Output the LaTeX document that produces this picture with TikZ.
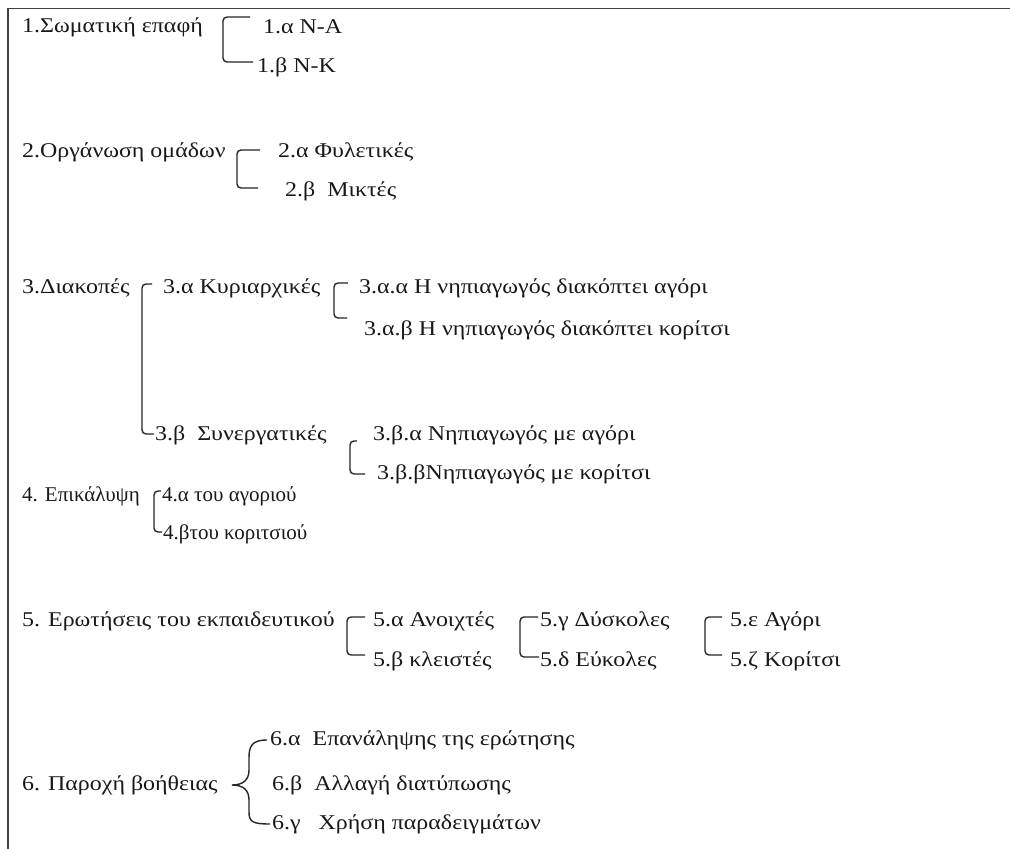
\documentclass[tikz,border=0pt]{standalone}
\usepackage{fontspec}
\setmainfont{Liberation Serif}
\newfontfamily\widefont[FakeStretch=1.14]{Liberation Serif}
\newfontfamily\narrowfont[FakeStretch=1.0]{Liberation Serif}
\begin{document}
\begin{tikzpicture}[x=1pt,y=-1pt,
  txt/.style={anchor=west,inner sep=0pt,font=\fontsize{21}{25}\widefont,text=black!90},
  ntxt/.style={txt,font=\fontsize{21}{25}\narrowfont},
  brk/.style={draw=black!85,line width=1.4pt,rounded corners=4pt},
  frame/.style={draw=black!75,line width=1.2pt}]
\useasboundingbox (0,0) rectangle (1010,849);
\fill[white] (0,0) rectangle (1010,849);
\draw[frame] (1010,8.5) -- (8,8.5) -- (8,849);

% row 1
\node[txt] (n1)  at (22,27)  {1.Σωματική επαφή};
\node[txt] (n1a) at (263,27) {1.α N-A};
\node[txt] (n1b) at (257,67) {1.β N-K};
\coordinate (b1) at (223,0);
\draw[brk] ([xshift=-13pt,yshift=10pt]n1a.west) -- ([yshift=10pt]n1a.west -| b1)
  -- ([yshift=5pt]n1b.west -| b1) -- ([xshift=-4pt,yshift=5pt]n1b.west);

% row 2
\node[txt] (n2)  at (22,152)  {2.Οργάνωση ομάδων};
\node[txt] (n2a) at (278,152) {2.α Φυλετικές};
\node[txt] (n2b) at (285,191) {2.β\ \ Μικτές};
\coordinate (b2) at (237,0);
\draw[brk] ([xshift=-18pt,yshift=2pt]n2a.west) -- ([yshift=2pt]n2a.west -| b2)
  -- ([yshift=3pt]n2b.west -| b2) -- ([xshift=-27pt,yshift=3pt]n2b.west);

% row 3
\node[txt] (n3)   at (22,288)  {3.Διακοπές};
\node[txt] (n3a)  at (163,288) {3.α Κυριαρχικές};
\node[txt] (n3b)  at (155,435) {3.β\ \ Συνεργατικές};
\node[txt] (n3aa) at (359,288) {3.α.α Η νηπιαγωγός διακόπτει αγόρι};
\node[txt] (n3ab) at (364,330) {3.α.β Η νηπιαγωγός διακόπτει κορίτσι};
\node[txt] (n3ba) at (373,435) {3.β.α Νηπιαγωγός με αγόρι};
\node[txt] (n3bb) at (377,474) {3.β.βΝηπιαγωγός με κορίτσι};
\coordinate (b3) at (142,0);
\draw[brk] ([xshift=-11pt,yshift=4pt]n3a.west) -- ([yshift=4pt]n3a.west -| b3)
  -- ([yshift=1pt]n3b.west -| b3) -- ([xshift=-1pt,yshift=1pt]n3b.west);
\coordinate (b3a) at (334,0);
\draw[brk] ([xshift=-11pt,yshift=5pt]n3aa.west) -- ([yshift=5pt]n3aa.west -| b3a)
  -- ([yshift=12pt]n3ab.west -| b3a) -- ([xshift=-17pt,yshift=12pt]n3ab.west);
\coordinate (b3b) at (350,0);
\draw[brk] ([xshift=-16pt,yshift=-6pt]n3ba.west) -- ([yshift=-6pt]n3ba.west -| b3b)
  -- ([yshift=0pt]n3bb.west -| b3b) -- ([xshift=-12pt,yshift=0pt]n3bb.west);

% row 4
\node[ntxt] (n4)  at (22,496)  {4. Επικάλυψη};
\node[ntxt] (n4a) at (162,496) {4.α του αγοριού};
\node[ntxt] (n4b) at (163,534) {4.βτου κοριτσιού};
\coordinate (b4) at (154,0);
\draw[brk] ([xshift=-1pt,yshift=5pt]n4a.west) -- ([yshift=5pt]n4a.west -| b4)
  -- ([yshift=2pt]n4b.west -| b4) -- ([xshift=-1pt,yshift=2pt]n4b.west);

% row 5
\node[txt] (n5)  at (22,621)  {5. Ερωτήσεις του εκπαιδευτικού};
\node[txt] (n5a) at (373,621) {5.α Ανοιχτές};
\node[txt] (n5b) at (373,661) {5.β κλειστές};
\node[txt] (n5c) at (540,621) {5.γ Δύσκολες};
\node[txt] (n5d) at (540,661) {5.δ Εύκολες};
\node[txt] (n5e) at (730,621) {5.ε Αγόρι};
\node[txt] (n5f) at (730,661) {5.ζ Κορίτσι};
\coordinate (b5a) at (347,0);
\draw[brk] ([xshift=-8pt,yshift=4pt]n5a.west) -- ([yshift=4pt]n5a.west -| b5a)
  -- ([yshift=6pt]n5b.west -| b5a) -- ([xshift=-8pt,yshift=6pt]n5b.west);
\coordinate (b5b) at (520,0);
\draw[brk] ([xshift=-2pt,yshift=4pt]n5c.west) -- ([yshift=4pt]n5c.west -| b5b)
  -- ([yshift=4pt]n5d.west -| b5b) -- ([xshift=-1pt,yshift=4pt]n5d.west);
\coordinate (b5c) at (705,0);
\draw[brk] ([xshift=-8pt,yshift=4pt]n5e.west) -- ([yshift=4pt]n5e.west -| b5c)
  -- ([yshift=6pt]n5f.west -| b5c) -- ([xshift=-8pt,yshift=6pt]n5f.west);

% row 6
\node[txt] (n6)  at (22,785)  {6. Παροχή βοήθειας};
\node[txt] (n6a) at (270,740) {6.α\ \ Επανάληψης της ερώτησης};
\node[txt] (n6b) at (272,785) {6.β\ \ Αλλαγή διατύπωσης};
\node[txt] (n6c) at (272,824) {6.γ\ \ \ Χρήση παραδειγμάτων};
\draw[draw=black!85,line width=1.4pt]
  ([xshift=-3pt]n6a.west) .. controls (252,740) and (249,746) .. (249,758)
  -- (249,770) .. controls (249,780) and (243,785) .. (232,785)
  .. controls (243,785) and (249,790) .. (249,800)
  -- (249,812) .. controls (249,822) and (253,824) .. ([xshift=-2pt]n6c.west);
\end{tikzpicture}
\end{document}
